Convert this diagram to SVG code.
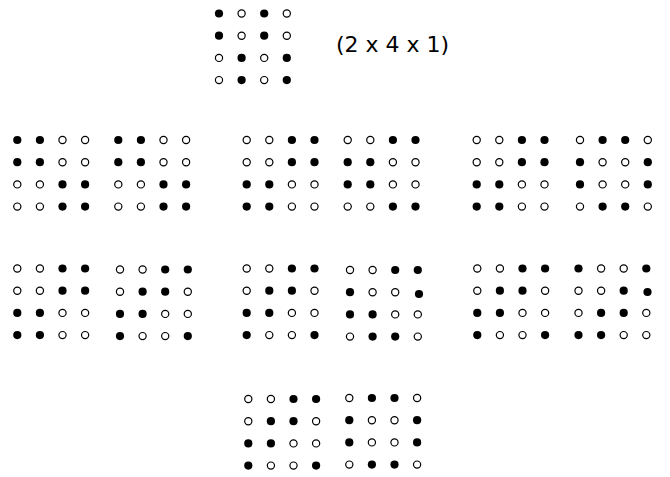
<svg xmlns="http://www.w3.org/2000/svg" xmlns:xlink="http://www.w3.org/1999/xlink" width="670" height="477" viewBox="0 0 670 477">
<style>
.f{fill:#000;stroke:none}
.o{fill:#fff;stroke:#000;stroke-width:1.2}
.t{font-family:"DejaVu Sans","Liberation Sans",Arial,sans-serif;font-size:22px;fill:#000}
</style>
<defs>
<circle id="F" class="f" r="4.1"/>
<circle id="O" class="o" r="3.6"/>
</defs>
<rect width="670" height="477" fill="#fff"/>
<g id="top" transform="translate(219,13.5)">
<use href="#F" x="0" y="0"/><use href="#O" x="22.6" y="0"/><use href="#F" x="45.2" y="0"/><use href="#O" x="67.8" y="0"/>
<use href="#F" x="0" y="22.2"/><use href="#O" x="22.6" y="22.2"/><use href="#F" x="45.2" y="22.2"/><use href="#O" x="67.8" y="22.2"/>
<use href="#O" x="0" y="44.4"/><use href="#F" x="22.6" y="44.4"/><use href="#O" x="45.2" y="44.4"/><use href="#F" x="67.8" y="44.4"/>
<use href="#O" x="0" y="66.6"/><use href="#F" x="22.6" y="66.6"/><use href="#O" x="45.2" y="66.6"/><use href="#F" x="67.8" y="66.6"/>
</g>
<text class="t" x="336" y="52">(2 x 4 x 1)</text>

<g id="r1a" transform="translate(17.3,140)">
<use href="#F" x="0" y="0"/><use href="#F" x="22.6" y="0"/><use href="#O" x="45.2" y="0"/><use href="#O" x="67.8" y="0"/>
<use href="#F" x="0" y="22.2"/><use href="#F" x="22.6" y="22.2"/><use href="#O" x="45.2" y="22.2"/><use href="#O" x="67.8" y="22.2"/>
<use href="#O" x="0" y="44.4"/><use href="#O" x="22.6" y="44.4"/><use href="#F" x="45.2" y="44.4"/><use href="#F" x="67.8" y="44.4"/>
<use href="#O" x="0" y="66.6"/><use href="#O" x="22.6" y="66.6"/><use href="#F" x="45.2" y="66.6"/><use href="#F" x="67.8" y="66.6"/>
</g>
<g id="r1b" transform="translate(118.3,140)">
<use href="#F" x="0" y="0"/><use href="#F" x="22.6" y="0"/><use href="#O" x="45.2" y="0"/><use href="#O" x="67.8" y="0"/>
<use href="#F" x="0" y="22.2"/><use href="#F" x="22.6" y="22.2"/><use href="#O" x="45.2" y="22.2"/><use href="#O" x="67.8" y="22.2"/>
<use href="#O" x="0" y="44.4"/><use href="#O" x="22.6" y="44.4"/><use href="#F" x="45.2" y="44.4"/><use href="#F" x="67.8" y="44.4"/>
<use href="#O" x="0" y="66.6"/><use href="#O" x="22.6" y="66.6"/><use href="#F" x="45.2" y="66.6"/><use href="#F" x="67.8" y="66.6"/>
</g>
<g id="r1c" transform="translate(246.7,140)">
<use href="#O" x="0" y="0"/><use href="#O" x="22.6" y="0"/><use href="#F" x="45.2" y="0"/><use href="#F" x="67.8" y="0"/>
<use href="#O" x="0" y="22.2"/><use href="#O" x="22.6" y="22.2"/><use href="#F" x="45.2" y="22.2"/><use href="#F" x="67.8" y="22.2"/>
<use href="#F" x="0" y="44.4"/><use href="#F" x="22.6" y="44.4"/><use href="#O" x="45.2" y="44.4"/><use href="#O" x="67.8" y="44.4"/>
<use href="#F" x="0" y="66.6"/><use href="#F" x="22.6" y="66.6"/><use href="#O" x="45.2" y="66.6"/><use href="#O" x="67.8" y="66.6"/>
</g>
<g id="r1d" transform="translate(347.7,140)">
<use href="#O" x="0" y="0"/><use href="#O" x="22.6" y="0"/><use href="#F" x="45.2" y="0"/><use href="#F" x="67.8" y="0"/>
<use href="#F" x="0" y="22.2"/><use href="#F" x="22.6" y="22.2"/><use href="#O" x="45.2" y="22.2"/><use href="#O" x="67.8" y="22.2"/>
<use href="#F" x="0" y="44.4"/><use href="#F" x="22.6" y="44.4"/><use href="#O" x="45.2" y="44.4"/><use href="#O" x="67.8" y="44.4"/>
<use href="#O" x="0" y="66.6"/><use href="#O" x="22.6" y="66.6"/><use href="#F" x="45.2" y="66.6"/><use href="#F" x="67.8" y="66.6"/>
</g>
<g id="r1e" transform="translate(476.7,140)">
<use href="#O" x="0" y="0"/><use href="#O" x="22.6" y="0"/><use href="#F" x="45.2" y="0"/><use href="#F" x="67.8" y="0"/>
<use href="#O" x="0" y="22.2"/><use href="#O" x="22.6" y="22.2"/><use href="#F" x="45.2" y="22.2"/><use href="#F" x="67.8" y="22.2"/>
<use href="#F" x="0" y="44.4"/><use href="#F" x="22.6" y="44.4"/><use href="#O" x="45.2" y="44.4"/><use href="#O" x="67.8" y="44.4"/>
<use href="#F" x="0" y="66.6"/><use href="#F" x="22.6" y="66.6"/><use href="#O" x="45.2" y="66.6"/><use href="#O" x="67.8" y="66.6"/>
</g>
<g id="r1f" transform="translate(580,140)">
<use href="#O" x="0" y="0"/><use href="#F" x="22.6" y="0"/><use href="#F" x="45.2" y="0"/><use href="#O" x="67.8" y="0"/>
<use href="#F" x="0" y="22.2"/><use href="#O" x="22.6" y="22.2"/><use href="#O" x="45.2" y="22.2"/><use href="#F" x="67.8" y="22.2"/>
<use href="#F" x="0" y="44.4"/><use href="#O" x="22.6" y="44.4"/><use href="#O" x="45.2" y="44.4"/><use href="#F" x="67.8" y="44.4"/>
<use href="#O" x="0" y="66.6"/><use href="#F" x="22.6" y="66.6"/><use href="#F" x="45.2" y="66.6"/><use href="#O" x="67.8" y="66.6"/>
</g>

<g id="r2a" transform="translate(17.3,268.5)">
<use href="#O" x="0" y="0"/><use href="#O" x="22.6" y="0"/><use href="#F" x="45.2" y="0"/><use href="#F" x="67.8" y="0"/>
<use href="#O" x="0" y="22.2"/><use href="#O" x="22.6" y="22.2"/><use href="#F" x="45.2" y="22.2"/><use href="#F" x="67.8" y="22.2"/>
<use href="#F" x="0" y="44.4"/><use href="#F" x="22.6" y="44.4"/><use href="#O" x="45.2" y="44.4"/><use href="#O" x="67.8" y="44.4"/>
<use href="#F" x="0" y="66.6"/><use href="#F" x="22.6" y="66.6"/><use href="#O" x="45.2" y="66.6"/><use href="#O" x="67.8" y="66.6"/>
</g>
<g id="r2b" transform="translate(120,269.5)">
<use href="#O" x="0" y="0"/><use href="#O" x="22.6" y="0"/><use href="#F" x="45.2" y="0"/><use href="#F" x="67.8" y="0"/>
<use href="#O" x="0" y="22.2"/><use href="#F" x="22.6" y="22.2"/><use href="#F" x="45.2" y="22.2"/><use href="#O" x="67.8" y="22.2"/>
<use href="#F" x="0" y="44.4"/><use href="#F" x="22.6" y="44.4"/><use href="#O" x="45.2" y="44.4"/><use href="#O" x="67.8" y="44.4"/>
<use href="#F" x="0" y="66.6"/><use href="#O" x="22.6" y="66.6"/><use href="#O" x="45.2" y="66.6"/><use href="#F" x="67.8" y="66.6"/>
</g>
<g id="r2c" transform="translate(246.7,268.5)">
<use href="#O" x="0" y="0"/><use href="#O" x="22.6" y="0"/><use href="#F" x="45.2" y="0"/><use href="#F" x="67.8" y="0"/>
<use href="#O" x="0" y="22.2"/><use href="#F" x="22.6" y="22.2"/><use href="#F" x="45.2" y="22.2"/><use href="#O" x="67.8" y="22.2"/>
<use href="#F" x="0" y="44.4"/><use href="#F" x="22.6" y="44.4"/><use href="#O" x="45.2" y="44.4"/><use href="#O" x="67.8" y="44.4"/>
<use href="#F" x="0" y="66.6"/><use href="#O" x="22.6" y="66.6"/><use href="#O" x="45.2" y="66.6"/><use href="#F" x="67.8" y="66.6"/>
</g>
<g id="r2d" transform="translate(350,270)">
<use href="#O" x="0" y="0"/><use href="#O" x="22.6" y="0"/><use href="#F" x="45.2" y="0"/><use href="#F" x="67.8" y="0"/>
<use href="#F" x="0" y="22.2"/><use href="#O" x="22.6" y="22.2"/><use href="#O" x="45.2" y="22.2"/><use href="#F" x="69" y="24"/>
<use href="#F" x="0" y="44.4"/><use href="#F" x="22.6" y="44.4"/><use href="#O" x="45.2" y="44.4"/><use href="#O" x="67.8" y="44.4"/>
<use href="#O" x="0" y="66.6"/><use href="#F" x="22.6" y="66.6"/><use href="#F" x="45.2" y="66.6"/><use href="#O" x="67.8" y="66.6"/>
</g>
<g id="r2e" transform="translate(477.3,268.5)">
<use href="#O" x="0" y="0"/><use href="#O" x="22.6" y="0"/><use href="#F" x="45.2" y="0"/><use href="#F" x="67.8" y="0"/>
<use href="#O" x="0" y="22.2"/><use href="#F" x="22.6" y="22.2"/><use href="#F" x="45.2" y="22.2"/><use href="#O" x="67.8" y="22.2"/>
<use href="#F" x="0" y="44.4"/><use href="#F" x="22.6" y="44.4"/><use href="#O" x="45.2" y="44.4"/><use href="#O" x="67.8" y="44.4"/>
<use href="#F" x="0" y="66.6"/><use href="#O" x="22.6" y="66.6"/><use href="#O" x="45.2" y="66.6"/><use href="#F" x="67.8" y="66.6"/>
</g>
<g id="r2f" transform="translate(578.5,268.5)">
<use href="#F" x="0" y="0"/><use href="#O" x="22.6" y="0"/><use href="#O" x="45.2" y="0"/><use href="#F" x="67.8" y="0"/>
<use href="#O" x="0" y="22.2"/><use href="#O" x="22.6" y="22.2"/><use href="#F" x="45.2" y="22.2"/><use href="#F" x="69" y="23.5"/>
<use href="#O" x="0" y="44.4"/><use href="#F" x="22.6" y="44.4"/><use href="#F" x="45.2" y="44.4"/><use href="#O" x="67.8" y="44.4"/>
<use href="#F" x="0" y="66.6"/><use href="#F" x="22.6" y="66.6"/><use href="#O" x="45.2" y="66.6"/><use href="#O" x="67.8" y="66.6"/>
</g>

<g id="r3a" transform="translate(248.3,399)">
<use href="#O" x="0" y="0"/><use href="#O" x="22.6" y="0"/><use href="#F" x="45.2" y="0"/><use href="#F" x="67.8" y="0"/>
<use href="#O" x="0" y="22.2"/><use href="#F" x="22.6" y="22.2"/><use href="#F" x="45.2" y="22.2"/><use href="#O" x="67.8" y="22.2"/>
<use href="#F" x="0" y="44.4"/><use href="#F" x="22.6" y="44.4"/><use href="#O" x="45.2" y="44.4"/><use href="#O" x="67.8" y="44.4"/>
<use href="#F" x="0" y="66.6"/><use href="#O" x="22.6" y="66.6"/><use href="#O" x="45.2" y="66.6"/><use href="#F" x="67.8" y="66.6"/>
</g>
<g id="r3b" transform="translate(349.3,398)">
<use href="#O" x="0" y="0"/><use href="#F" x="22.6" y="0"/><use href="#F" x="45.2" y="0"/><use href="#O" x="67.8" y="0"/>
<use href="#F" x="0" y="22.2"/><use href="#O" x="22.6" y="22.2"/><use href="#O" x="45.2" y="22.2"/><use href="#F" x="67.8" y="22.2"/>
<use href="#F" x="0" y="44.4"/><use href="#O" x="22.6" y="44.4"/><use href="#O" x="45.2" y="44.4"/><use href="#F" x="67.8" y="44.4"/>
<use href="#O" x="0" y="66.6"/><use href="#F" x="22.6" y="66.6"/><use href="#F" x="45.2" y="66.6"/><use href="#O" x="67.8" y="66.6"/>
</g>
</svg>
